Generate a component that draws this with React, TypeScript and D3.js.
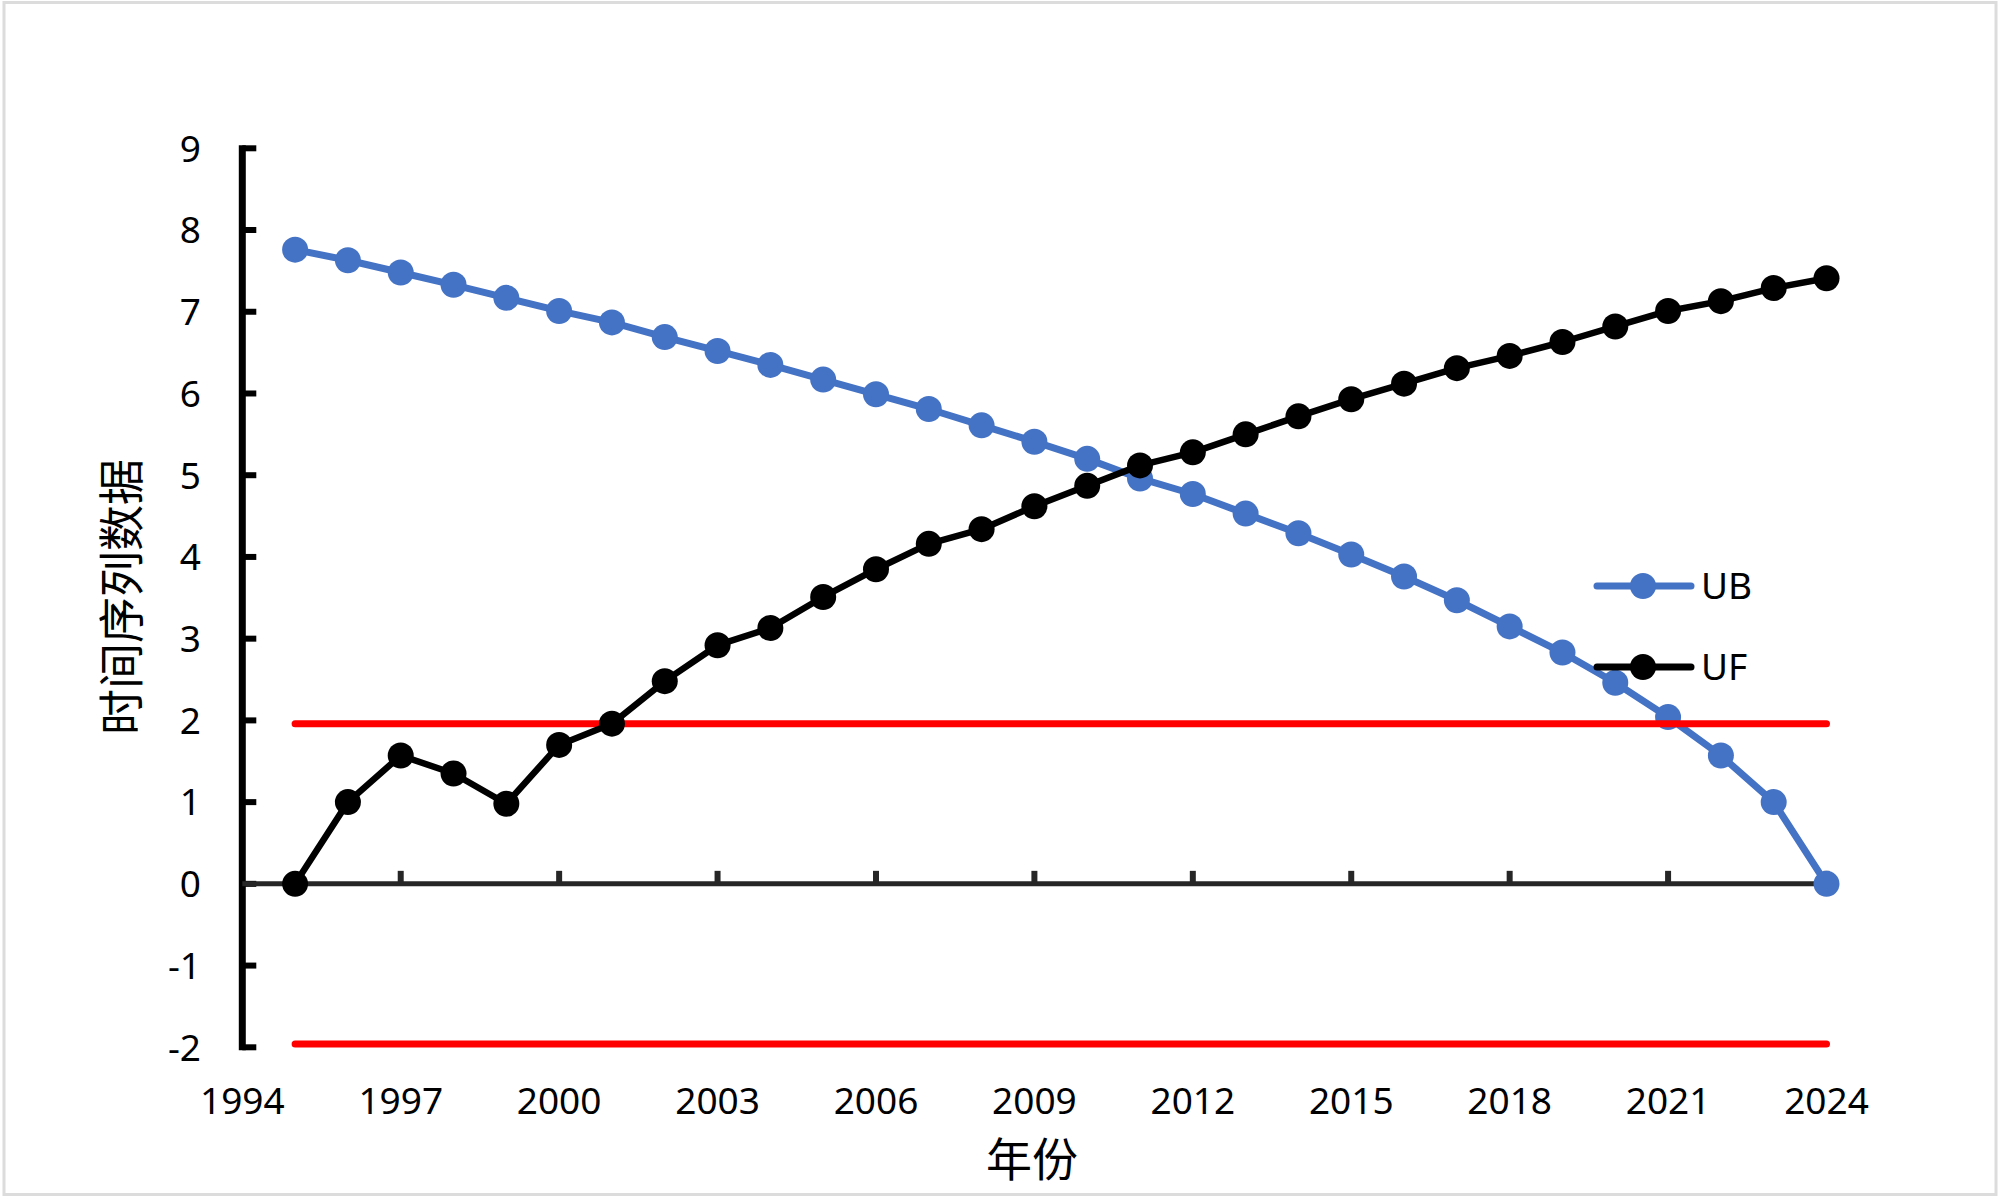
import React from "react";
import * as d3 from "d3";

const years: number[] = d3.range(1995, 2025);
const ubValues: number[] = [
  7.76, 7.63, 7.48, 7.33, 7.17, 7.01, 6.87, 6.69, 6.52, 6.35,
  6.17, 5.99, 5.81, 5.61, 5.41, 5.2, 4.96, 4.77, 4.53, 4.29,
  4.03, 3.76, 3.47, 3.15, 2.83, 2.46, 2.04, 1.57, 1.0, 0,
];
const ufValues: number[] = [
  0, 1.0, 1.57, 1.35, 0.98, 1.7, 1.96, 2.48, 2.92, 3.13,
  3.51, 3.85, 4.16, 4.34, 4.62, 4.87, 5.12, 5.28, 5.5, 5.72,
  5.93, 6.12, 6.31, 6.46, 6.63, 6.82, 7.01, 7.13, 7.29, 7.41,
];
const criticalValues: number[] = [1.96, -1.96];
const xTicks: number[] = [1994, 1997, 2000, 2003, 2006, 2009, 2012, 2015, 2018, 2021, 2024];
const yTicks: number[] = [-2, -1, 0, 1, 2, 3, 4, 5, 6, 7, 8, 9];
const seriesNames = ["UB", "UF"];

const W = 2000;
const H = 1199;
const FONT = "'Noto Sans', 'DejaVu Sans', sans-serif";
const CJK = "'Noto Sans CJK SC', 'Noto Sans', sans-serif";

export default function App() {
  const x = d3.scaleLinear().domain([1994, 2024]).range([242.3, 1826.5]);
  const y = d3.scaleLinear().domain([-2, 9]).range([1047.3, 148.3]);

  const line = d3
    .line<[number, number]>()
    .x((d) => x(d[0]))
    .y((d) => y(d[1]));

  const ub: [number, number][] = years.map((yr, i) => [yr, ubValues[i]]);
  const uf: [number, number][] = years.map((yr, i) => [yr, ufValues[i]]);

  const blue = "#4472C4";
  const black = "#000000";
  const r = 13;

  return (
    <svg
      width={W}
      height={H}
      style={{ position: "absolute", left: 0, top: 0, background: "#fff" }}
    >
      <rect x={0} y={0} width={W} height={H} fill="#fff" />
      <rect x={4} y={2.5} width={1992} height={1192} fill="none" stroke="#DCDCDC" strokeWidth={3} />

      {/* y axis */}
      <line x1={x(1994)} x2={x(1994)} y1={y(9) - 3} y2={y(-2) + 3} stroke="#000" strokeWidth={7} />
      {yTicks.map((t) => (
        <g key={"yt" + t}>
          <line x1={x(1994)} x2={x(1994) + 14} y1={y(t)} y2={y(t)} stroke="#000" strokeWidth={6} />
          <text
            x={201}
            y={y(t)}
            dy="0.36em"
            textAnchor="end"
            fontFamily={FONT}
            fontSize={37}
            fill="#000"
          >
            {t}
          </text>
        </g>
      ))}

      {/* x axis at 0 */}
      <line x1={x(1994)} x2={x(2024)} y1={y(0)} y2={y(0)} stroke="#262626" strokeWidth={5} />
      {xTicks.map((t) => (
        <g key={"xt" + t}>
          {t !== 1994 && (
            <line x1={x(t)} x2={x(t)} y1={y(0)} y2={y(0) - 13} stroke="#262626" strokeWidth={6} />
          )}
          <text
            x={x(t)}
            y={1101}
            dy="0.36em"
            textAnchor="middle"
            fontFamily={FONT}
            fontSize={37}
            fill="#000"
          >
            {t}
          </text>
        </g>
      ))}

      {/* UB series */}
      <path d={line(ub) ?? ""} fill="none" stroke={blue} strokeWidth={7} strokeLinejoin="round" />
      {ub.map((d) => (
        <circle key={"ub" + d[0]} cx={x(d[0])} cy={y(d[1])} r={r} fill={blue} />
      ))}

      {/* critical lines */}
      {criticalValues.map((c) => (
        <line
          key={"c" + c}
          x1={x(1995)}
          x2={x(2024)}
          y1={y(c)}
          y2={y(c)}
          stroke="#FF0000"
          strokeWidth={7}
          strokeLinecap="round"
        />
      ))}

      {/* UF series */}
      <path d={line(uf) ?? ""} fill="none" stroke={black} strokeWidth={6.5} strokeLinejoin="round" />
      {uf.map((d) => (
        <circle key={"uf" + d[0]} cx={x(d[0])} cy={y(d[1])} r={r} fill={black} />
      ))}

      {/* legend */}
      {seriesNames.map((name, i) => {
        const ly = 586 + i * 81;
        const col = i === 0 ? blue : black;
        return (
          <g key={"lg" + name}>
            <line x1={1597} x2={1691} y1={ly} y2={ly} stroke={col} strokeWidth={7} strokeLinecap="round" />
            <circle cx={1643} cy={ly} r={r} fill={col} />
            <text x={1701} y={ly} dy="0.36em" fontFamily={FONT} fontSize={37} fill="#000">
              {name}
            </text>
          </g>
        );
      })}

      {/* axis titles */}
      <text
        x={1032}
        y={1159}
        dy="0.36em"
        textAnchor="middle"
        fontFamily={CJK}
        fontSize={46}
        fill="#000"
      >
        年份
      </text>
      <text
        transform="translate(121.5,597) rotate(-90)"
        dy="0.36em"
        textAnchor="middle"
        fontFamily={CJK}
        fontSize={46}
        fill="#000"
      >
        时间序列数据
      </text>
    </svg>
  );
}
